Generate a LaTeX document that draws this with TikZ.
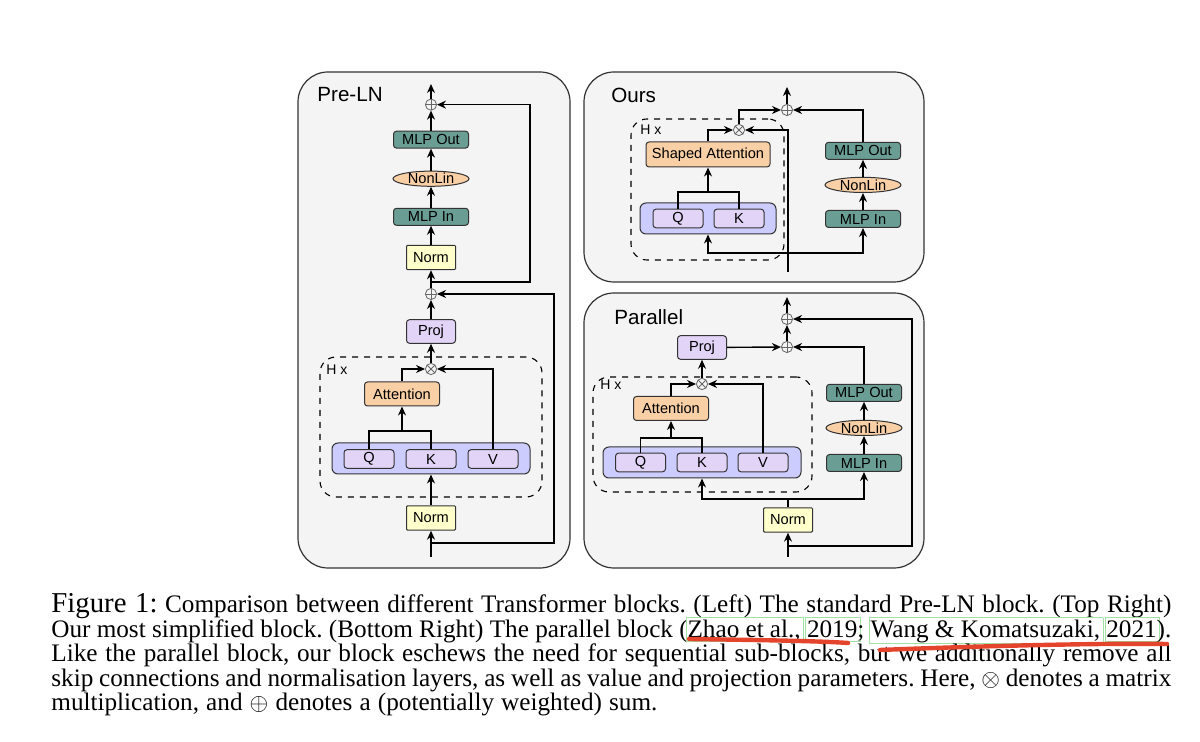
\documentclass[tikz,border=0pt]{standalone}
\usepackage{fontspec}
\setmainfont{Liberation Serif}
\setsansfont{Liberation Sans}
\usepackage{tikz}
\usetikzlibrary{positioning,arrows.meta,shapes.geometric}
\definecolor{panelgray}{HTML}{F4F4F4}
\definecolor{mlpteal}{HTML}{6A9E94}
\definecolor{peach}{HTML}{F9CFA6}
\definecolor{normyellow}{HTML}{FFFFCC}
\definecolor{lilac}{HTML}{E2D4F6}
\definecolor{qkvblue}{HTML}{CCCCFF}
\definecolor{linkgreen}{HTML}{A3E0A3}
\definecolor{penred}{HTML}{E5442C}
\newcommand{\capfont}{\fontsize{12.6}{12.25}\selectfont\frenchspacing}
\newcommand{\linkbox}[1]{\makebox[0pt][l]{\kern-0.8pt\color{linkgreen}\setlength{\fboxrule}{0.4pt}\setlength{\fboxsep}{0pt}\fbox{\rule[-1.8pt]{0pt}{11.4pt}\kern1.6pt\phantom{#1}}}#1}

\begin{document}
\begin{tikzpicture}[
  x=0.5pt, y=-0.5pt,
  node distance=10pt,
  panel/.style={draw=black!80, fill=panelgray, rounded corners=15pt, line width=0.6pt},
  paneltitle/.style={font=\sffamily\fontsize{10.3}{12}\selectfont, inner sep=0pt, anchor=west},
  heads/.style={draw, dashed, rounded corners=8pt, line width=0.55pt},
  hx/.style={font=\sffamily\fontsize{7}{8}\selectfont, inner sep=0pt, anchor=west},
  blk/.style={draw=black!80, rounded corners=1.5pt, inner sep=0pt, line width=0.5pt, font=\sffamily\fontsize{7.3}{8}\selectfont},
  mlp/.style={blk, fill=mlpteal, minimum width=37.5pt, minimum height=8.5pt},
  nonlin/.style={blk, ellipse, fill=peach, minimum width=38pt, minimum height=7.5pt},
  norm/.style={blk, fill=normyellow, rounded corners=0.5pt, minimum width=24.5pt, minimum height=12.2pt},
  proj/.style={blk, fill=lilac, minimum width=24.5pt, minimum height=11.8pt},
  attn/.style={blk, fill=peach, minimum width=37.5pt, minimum height=12pt},
  qkv/.style={blk, fill=qkvblue, rounded corners=3pt, minimum height=15.5pt},
  qkbox/.style={blk, fill=lilac, minimum width=25pt, minimum height=9.3pt},
  sum/.style={circle, draw=black!60, minimum size=5.6pt, inner sep=0pt, line width=0.4pt,
    path picture={\draw[black!60, line width=0.4pt] (path picture bounding box.north) -- (path picture bounding box.south) (path picture bounding box.west) -- (path picture bounding box.east);}},
  prod/.style={circle, draw=black!60, minimum size=5.6pt, inner sep=0pt, line width=0.4pt,
    path picture={\draw[black!60, line width=0.4pt] (path picture bounding box.north west) -- (path picture bounding box.south east) (path picture bounding box.south west) -- (path picture bounding box.north east);}},
  ln/.style={line width=0.7pt},
  arr/.style={-{Stealth[length=4.5pt, width=4pt]}, line width=0.7pt},
  captext/.style={font=\capfont, inner sep=0pt, anchor=base west},
  pen/.style={penred, line width=2.2pt, line cap=round}
]
\fill[white] (0,0) rectangle (1200,742);
\useasboundingbox (0,0) rectangle (1200,742);

\node[panel, minimum width=136pt, minimum height=248pt] (plnbox) at (434,320) {};
\node[paneltitle] (plnt) at (317,95) {Pre-LN};
\node[heads, minimum width=111pt, minimum height=70pt] (phx) at (431,427) {};
\node[hx] (phxl) at (326,370) {H x};
\node[norm] (pnorm1) at (431,518) {Norm};
\node[qkv, minimum width=99pt] (pqkv) at (431,458.5) {};
\node[qkbox] (pq) at (369,459) {Q};
\node[qkbox] (pk) at (431,459) {K};
\node[qkbox] (pv) at (493,459) {V};
\node[attn] (patt) at (402,394) {Attention};
\node[prod] (pmul) at (431,369) {};
\node[proj] (pproj) at (431,331.5) {Proj};
\node[sum] (psum1) at (431,294) {};
\node[norm] (pnorm2) at (431,257.5) {Norm};
\node[mlp, above=9.5pt of pnorm2] (pmin) {MLP In};
\node[nonlin, above=10.5pt of pmin] (pnl) {NonLin};
\node[mlp, above=11pt of pnl] (pmout) {MLP Out};
\node[sum, above=10pt of pmout] (psum2) {};
\coordinate (pout) at (431,84);
\coordinate (pin) at (431,557);
\coordinate (pbr1) at (431,543);
\coordinate (pskip1) at (554,543);
\coordinate (pqkj) at (402,431);
\coordinate (pbr2) at (431,282);
\coordinate (pskip2) at (530,282);
\draw[ln] (pin) -- (pbr1); \draw[arr] (pbr1) -- (pnorm1); \draw[arr] (pbr1) -- (pskip1) |- (psum1);
\draw[arr] (pnorm1) -- (pqkv);
\draw[ln] (pq.north) |- (pqkj) -| (pk.north); \draw[arr] (pqkj) -- (patt);
\draw[arr] (patt) |- (pmul); \draw[arr] (pv) |- (pmul);
\draw[arr] (pmul) -- (pproj); \draw[arr] (pproj) -- (psum1); \draw[arr] (psum1) -- (pnorm2);
\draw[arr] (pbr2) -- (pskip2) |- (psum2);
\draw[arr] (pnorm2) -- (pmin); \draw[arr] (pmin) -- (pnl); \draw[arr] (pnl) -- (pmout);
\draw[arr] (pmout) -- (psum2); \draw[arr] (psum2) -- (pout);

\node[panel, minimum width=170pt, minimum height=105pt] (ourbox) at (754,177) {};
\node[paneltitle] (ourt) at (611,95) {Ours};
\node[heads, minimum width=76.5pt, minimum height=70.5pt] (ohx) at (707.5,189.5) {};
\node[hx] (ohxl) at (640,130) {H x};
\node[prod] (omul) at (739,130) {};
\node[sum] (osum) at (787,110) {};
\node[attn, minimum width=62pt, minimum height=12.5pt] (oatt) at (708,154.5) {Shaped Attention};
\node[qkv, minimum width=68pt] (oqk) at (708,218.5) {};
\node[qkbox] (oq) at (678,218.5) {Q};
\node[qkbox] (ok) at (739,218.5) {K};
\node[mlp] (omin) at (863,219) {MLP In};
\node[nonlin, above=8.5pt of omin] (onl) {NonLin};
\node[mlp, above=8.5pt of onl] (omout) {MLP Out};
\coordinate (oout) at (787,87);
\coordinate (oin) at (788,272);
\coordinate (obr) at (788,253);
\coordinate (oqkj) at (708,192);
\draw[arr] (oin) |- (omul);
\draw[arr] (obr) -| (oqk); \draw[arr] (obr) -| (omin);
\draw[ln] (oq.north) |- (oqkj) -| (ok.north); \draw[arr] (oqkj) -- (oatt);
\draw[arr] (oatt) |- (omul); \draw[arr] (omul) |- (osum);
\draw[arr] (omin) -- (onl); \draw[arr] (onl) -- (omout); \draw[arr] (omout) |- (osum);
\draw[arr] (osum) -- (oout);

\node[panel, minimum width=170pt, minimum height=137.5pt] (parbox) at (754,430.5) {};
\node[paneltitle] (part) at (614,317) {Parallel};
\node[heads, minimum width=109.5pt, minimum height=57.5pt] (qhx) at (702.5,434.5) {};
\node[hx] (qhxl) at (600,385) {H x};
\node[sum] (qsuma) at (787,319) {};
\node[sum] (qsumb) at (787,347) {};
\node[proj] (qproj) at (702,347.5) {Proj};
\node[prod] (qmul) at (702,384) {};
\node[attn] (qatt) at (671,408.5) {Attention};
\node[qkv, minimum width=99pt] (qqkv) at (702,462.5) {};
\node[qkbox] (qq) at (640.5,462.5) {Q};
\node[qkbox] (qk) at (702,462.5) {K};
\node[qkbox] (qv) at (763,462.5) {V};
\node[norm] (qnorm) at (788,520) {Norm};
\node[mlp] (qmin) at (864,463) {MLP In};
\node[nonlin, above=9pt of qmin] (qnl) {NonLin};
\node[mlp, above=9pt of qnl] (qmout) {MLP Out};
\coordinate (qout) at (787,297);
\coordinate (qin) at (788,557);
\coordinate (qbr1) at (788,546);
\coordinate (qskip) at (912,546);
\coordinate (qbr2) at (788,499);
\coordinate (qqkj) at (671,438);
\draw[ln] (qin) -- (qbr1); \draw[arr] (qbr1) -- (qnorm); \draw[arr] (qbr1) -- (qskip) |- (qsuma);
\draw[ln] (qnorm) -- (qbr2); \draw[arr] (qbr2) -| (qqkv); \draw[arr] (qbr2) -| (qmin);
\draw[ln] (qq.north) |- (qqkj) -| (qk.north); \draw[arr] (qqkj) -- (qatt);
\draw[arr] (qatt) |- (qmul); \draw[arr] (qv) |- (qmul);
\draw[arr] (qmul) -- (qproj); \draw[arr] (qproj) -- (qsumb);
\draw[arr] (qmin) -- (qnl); \draw[arr] (qnl) -- (qmout); \draw[arr] (qmout) |- (qsumb);
\draw[arr] (qsumb) -- (qsuma); \draw[arr] (qsuma) -- (qout);

\node[captext] (cap1) at (51,613) {\makebox[560pt][s]{{\fontsize{14.4}{14}\selectfont Figure 1:} Comparison between different Transformer blocks. (Left) The standard Pre-LN block. (Top Right)}};
\node[captext] (cap2) at (51,637.5) {\makebox[560pt][s]{Our most simplified block. (Bottom Right) The parallel block (\linkbox{Zhao et al.,} \linkbox{2019}; \linkbox{Wang \& Komatsuzaki,} \linkbox{2021}).}};
\node[captext] (cap3) at (51,662) {\makebox[560pt][s]{Like the parallel block, our block eschews the need for sequential sub-blocks, but we additionally remove all}};
\node[captext] (cap4) at (51,686.5) {\makebox[560pt][s]{skip connections and normalisation layers, as well as value and projection parameters. Here, $\otimes$ denotes a matrix}};
\node[captext] (cap5) at (51,711) {\makebox[303pt][s]{multiplication, and $\oplus$ denotes a (potentially weighted) sum.}};
\draw[pen] (689,639) .. controls (760,640) and (820,641) .. (848,643);
\draw[pen] (880,650) .. controls (980,646) and (1100,643) .. (1167,644);
\end{tikzpicture}
\end{document}
